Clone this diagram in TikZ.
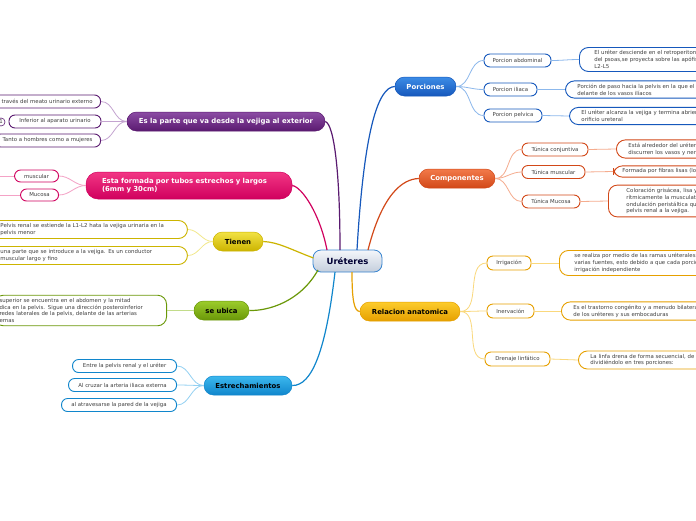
\documentclass[tikz,border=0pt]{standalone}
\usepackage{fontspec}
\setmainfont{DejaVu Sans}
\usetikzlibrary{shapes}

\definecolor{hubline}{HTML}{3A86D0}
\definecolor{hubtop}{HTML}{F4F6FA}
\definecolor{hubbot}{HTML}{C4CEDC}
\definecolor{porc}{HTML}{1658BC}
\definecolor{porctop}{HTML}{3C8CE6}
\definecolor{porcline}{HTML}{8CB8EC}
\definecolor{comp}{HTML}{D24818}
\definecolor{comptop}{HTML}{F27A4A}
\definecolor{compline}{HTML}{F5AC8E}
\definecolor{rela}{HTML}{E6A000}
\definecolor{relatop}{HTML}{FCCC2C}
\definecolor{relaline}{HTML}{FAD87C}
\definecolor{estr}{HTML}{1086CC}
\definecolor{estrtop}{HTML}{3CB8EE}
\definecolor{estrline}{HTML}{92D0F2}
\definecolor{ubic}{HTML}{6A9808}
\definecolor{ubictop}{HTML}{9CCC2C}
\definecolor{ubicline}{HTML}{C2DC8A}
\definecolor{tien}{HTML}{CCB400}
\definecolor{tientop}{HTML}{F2E244}
\definecolor{tienline}{HTML}{F2E88C}
\definecolor{form}{HTML}{D0005E}
\definecolor{formtop}{HTML}{F23684}
\definecolor{formline}{HTML}{F4A2C6}
\definecolor{part}{HTML}{5A1A70}
\definecolor{parttop}{HTML}{8C4CA4}
\definecolor{partline}{HTML}{C4A4D0}
\definecolor{leaftext}{HTML}{404040}

\newcommand\hubfont{\bfseries\fontsize{8.5}{10}\selectfont}
\newcommand\branchfont{\bfseries\fontsize{6.9}{8.2}\selectfont}
\newcommand\twigfont{\fontsize{5.4}{6.8}\selectfont}

\tikzset{
  hub/.style={draw=hubline, line width=0.8pt, rounded corners=8pt,
    top color=hubtop, bottom color=hubbot, minimum width=69pt,
    minimum height=22pt, font=\hubfont, text=black!80!blue},
  branch/.style={draw=#1, line width=0.5pt, rounded corners=9.5pt,
    top color=#1top, bottom color=#1, minimum height=19pt,
    inner xsep=9pt, font=\branchfont},
  twig/.style={draw=#1, line width=0.9pt, rounded corners=6pt, fill=white,
    minimum height=13pt, inner xsep=8pt, inner ysep=1pt, font=\twigfont,
    text=leaftext},
  leafbox/.style={draw=#1, line width=0.9pt, rounded corners=9pt, fill=white,
    align=left, inner xsep=12pt, inner ysep=3pt, font=\twigfont,
    text=leaftext},
  trunk/.style={draw=#1, line width=1.2pt},
  link/.style={draw=#1line, line width=0.8pt}
}

\begin{document}
\begin{tikzpicture}[x=1pt,y=-1pt]
\useasboundingbox[fill=white] (0,0) rectangle (696,520);

% centre
\node[hub] (ureter) at (347.5,261) {Uréteres};

% main branches
\node[branch=porc, text=white, minimum width=61pt] (porciones) at (425.5,86.5) {Porciones};
\node[branch=comp, text=white, minimum width=76pt] (componentes) at (457,178.5) {Componentes};
\node[branch=rela, text=black, minimum width=100pt] (relacion) at (410,311.5) {Relacion anatomica};
\node[branch=estr, text=black, minimum width=88pt] (estrech) at (248,385.5) {Estrechamientos};
\node[branch=ubic, text=black, minimum width=55pt] (ubica) at (221.5,310.5) {se ubica};
\node[branch=tien, text=black, minimum width=50pt] (tienen) at (238,241.5) {Tienen};
\node[branch=form, text=white, minimum width=206pt, minimum height=27pt,
  rounded corners=12pt, align=left, inner xsep=16pt, text width=174pt] (formada) at (189,185.5)
  {Esta formada por tubos estrechos y largos\\(6mm y 30cm)};
\node[branch=part, text=white, minimum width=198pt] (parte) at (226,121.5)
  {Es la parte que va desde la vejiga al exterior};

% trunks from the centre
\draw[trunk=porc] (357,250) .. controls (364,130) and (378,87) .. (porciones.west);
\draw[trunk=comp] (368,250) .. controls (382,195) and (402,179) .. (componentes.west);
\draw[trunk=rela] (352,272) .. controls (352,300) and (354,311) .. (relacion.west);
\draw[trunk=estr] (335,272) .. controls (326,350) and (312,386) .. (estrech.east);
\draw[trunk=ubic] (318,270) .. controls (300,302) and (268,311) .. (ubica.east);
\draw[trunk=tien] (313.5,258) .. controls (292,250) and (278,242) .. (tienen.east);
\draw[trunk=form] (327,250) .. controls (320,214) and (302,187) .. (formada.east);
\draw[trunk=part] (340,250) .. controls (340,172) and (334,124) .. (parte.east);

% Porciones
\node[twig=porc, minimum width=67pt] (abdominal) at (517.5,60.5) {Porcion abdominal};
\node[twig=porc, minimum width=53pt] (iliaca) at (510.5,89.5) {Porcion iliaca};
\node[twig=porc, minimum width=58pt] (pelvica) at (513,115.5) {Porcion pelvica};
\node[leafbox=porc, anchor=west, text width=150pt, inner xsep=15pt] (abdleaf) at (579,59.5)
  {El uréter desciende en el retroperitoneo\\del psoas,se proyecta sobre las apófisis\\L2-L5};
\node[leafbox=porc, anchor=west, text width=150pt] (ilileaf) at (565,89.5)
  {Porción de paso hacia la pelvis en la que el\\delante de los vasos ilíacos};
\node[leafbox=porc, anchor=west, text width=150pt] (pelleaf) at (569,116)
  {El uréter alcanza la vejiga y termina abriendo\\orificio ureteral};
\foreach \kid in {abdominal,iliaca,pelvica}
  \draw[link=porc] (porciones.east) to[out=0,in=180] (\kid.west);
\draw[link=porc] (abdominal.east) to[out=0,in=180] (abdleaf.west);
\draw[link=porc] (iliaca.east) -- (ilileaf.west);
\draw[link=porc] (pelvica.east) -- (pelleaf.west);

% Componentes
\node[twig=comp, minimum width=66pt] (conjuntiva) at (555,149.5) {Túnica conjuntiva};
\node[twig=comp, minimum width=63pt] (muscular) at (553.5,172) {Túnica muscular};
\node[twig=comp, minimum width=58pt] (mucosa) at (551,201.5) {Túnica Mucosa};
\node[leafbox=comp, anchor=west, text width=150pt] (conjleaf) at (616,149)
  {Está alrededor del uréter\\discurren los vasos y nervios};
\node[leafbox=comp, anchor=west, text width=150pt, inner xsep=9pt] (muscleaf) at (613,171.5)
  {Formada por fibras lisas (lo};
\node[leafbox=comp, anchor=west, text width=150pt, inner xsep=18pt] (mucleaf) at (608,201)
  {Coloración grisácea, lisa y\\rítmicamente la musculatura\\ondulación peristáltica que\\pelvis renal a la vejiga.};
\foreach \kid in {conjuntiva,muscular,mucosa}
  \draw[link=comp] (componentes.east) to[out=0,in=180] (\kid.west);
\draw[link=comp] (conjuntiva.east) -- (conjleaf.west);
\draw[link=comp] (muscular.east) -- (muscleaf.west);
\draw[link=comp] (mucosa.east) -- (mucleaf.west);

% Relacion anatomica
\node[twig=rela, minimum width=44pt, minimum height=14pt] (irrigacion) at (509,263) {Irrigación};
\node[twig=rela, minimum width=47pt, minimum height=14pt] (inervacion) at (510.5,311) {Inervación};
\node[twig=rela, minimum width=65pt, minimum height=14pt] (drenaje) at (517.5,359) {Drenaje linfático};
\node[leafbox=rela, anchor=west, text width=150pt, inner xsep=15pt] (irrleaf) at (559,263)
  {se realiza por medio de las ramas uréterales de\\varias fuentes, esto debido a que cada porción\\irrigación independiente};
\node[leafbox=rela, anchor=west, text width=150pt] (inerleaf) at (561,311)
  {Es el trastorno congénito y a menudo bilateral\\de los uréteres y sus embocaduras};
\node[leafbox=rela, anchor=west, text width=150pt] (drenleaf) at (578,360)
  {La linfa drena de forma secuencial, de\\dividiéndolo en tres porciones:};
\foreach \kid in {irrigacion,inervacion,drenaje}
  \draw[link=rela] (relacion.east) to[out=0,in=180] (\kid.west);
\draw[link=rela] (irrigacion.east) -- (irrleaf.west);
\draw[link=rela] (inervacion.east) -- (inerleaf.west);
\draw[link=rela] (drenaje.east) -- (drenleaf.west);

% Estrechamientos
\node[twig=estr, anchor=east, minimum width=104pt] (pelvrenal) at (177,366) {Entre la pelvis renal y el uréter};
\node[twig=estr, anchor=east, minimum width=108pt] (arteria) at (177,385) {Al cruzar la arteria iliaca externa};
\node[twig=estr, anchor=east, minimum width=115pt] (pared) at (177,405) {al atravesarse la pared de la vejiga};
\foreach \kid in {pelvrenal,arteria,pared}
  \draw[link=estr] (estrech.west) to[out=180,in=0] (\kid.east);

% se ubica
\node[leafbox=ubic, anchor=east, text width=162pt, inner xsep=5pt] (ubileaf) at (167,310.5)
  {superior se encuentra en el abdomen y la mitad\\dica en la pelvis. Sigue una dirección posteroinferior\\redes laterales de la pelvis, delante de las arterias\\ernas};
\draw[link=ubic] (ubica.west) -- (ubileaf.east);

% Tienen
\node[leafbox=tien, anchor=west, text width=175pt] (pelvleaf) at (-12,229.5)
  {Pelvis renal se estiende la L1-L2 hata la vejiga urinaria en la\\pelvis menor};
\node[leafbox=tien, anchor=west, text width=175pt] (condleaf) at (-12,255.5)
  {una parte que se introduce a la vejiga. Es un conductor\\muscular largo y fino};
\foreach \kid in {pelvleaf,condleaf}
  \draw[link=tien] (tienen.west) to[out=180,in=0] (\kid.east);

% Esta formada
\node[twig=form, anchor=east, minimum width=44pt, minimum height=12pt] (capamusc) at (59,176) {muscular};
\node[twig=form, anchor=east, minimum width=38pt, minimum height=12pt] (capamuco) at (59,195) {Mucosa};
\coordinate (muscend) at (-5,176);
\coordinate (mucoend) at (-5,195);
\foreach \kid in {capamusc,capamuco}
  \draw[link=form] (formada.west) to[out=180,in=0] (\kid.east);
\draw[link=form] (capamusc.west) -- (muscend);
\draw[link=form] (capamuco.west) -- (mucoend);

% Es la parte ...
\node[twig=part, anchor=east, minimum height=13pt] (meato) at (101,101.5) {A través del meato urinario externo};
\node[twig=part, minimum width=92pt, minimum height=13pt] (inferior) at (55,121.5) {Inferior al aparato urinario};
\node[twig=part, anchor=east, minimum height=13pt] (ambos) at (101,140.5) {Tanto a hombres como a mujeres};
\node[draw=part, line width=0.6pt, circle, fill=white, inner sep=1pt, font=\twigfont, text=leaftext] (uno) at (1,122) {1};
\foreach \kid in {meato,inferior,ambos}
  \draw[link=part] (parte.west) to[out=180,in=0] (\kid.east);
\end{tikzpicture}
\end{document}
